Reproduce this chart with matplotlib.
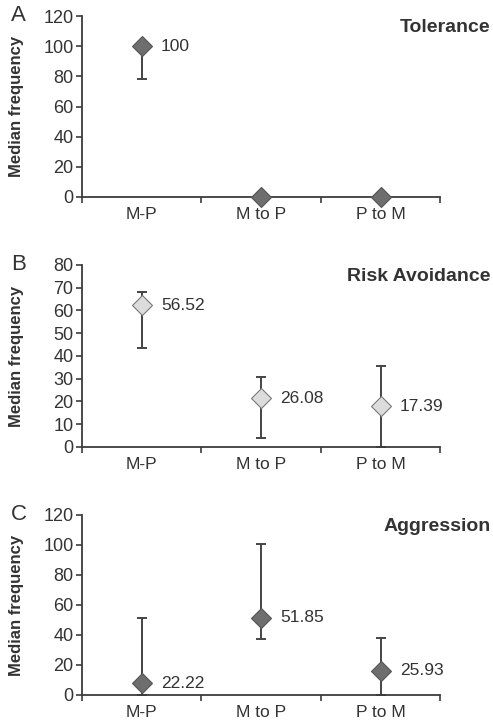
import numpy as np
import matplotlib
matplotlib.use("Agg")
import matplotlib.pyplot as plt

plt.rcParams['font.family'] = ['Liberation Sans', 'DejaVu Sans']

# Data
categories = ["M-P", "M to P", "P to M"]

tol_median = [100, 0, 0]
tol_low = [78, 0, 0]
tol_high = [100, 0, 0]
tol_labels = ["100", "", ""]

risk_median = [62.4, 21.4, 18.0]
risk_low = [43.4, 3.8, 0]
risk_high = [68.3, 30.6, 35.6]
risk_labels = ["56.52", "26.08", "17.39"]

agg_median = [7.8, 51.6, 16.0]
agg_low = [0, 37.1, 0]
agg_high = [51.1, 100.7, 37.8]
agg_labels = ["22.22", "51.85", "25.93"]

panels = [
    ("A", "Tolerance", tol_median, tol_low, tol_high, tol_labels, 120, 20, "#6e6e6e", "#555555"),
    ("B", "Risk Avoidance", risk_median, risk_low, risk_high, risk_labels, 80, 10, "#dcdcdc", "#7a7a7a"),
    ("C", "Aggression", agg_median, agg_low, agg_high, agg_labels, 120, 20, "#6e6e6e", "#555555"),
]

# axes rectangles in figure fractions
rects = [
    [0.166, 0.7287, 0.727, 0.249],
    [0.166, 0.3843, 0.727, 0.2507],
    [0.166, 0.0427, 0.727, 0.248],
]

fig = plt.figure(figsize=(4.93, 7.26), dpi=100)
axis_col = "#3c3c3c"
txt_col = "#333333"
x = np.arange(1, len(categories) + 1)

for (letter, title, med, low, high, labels, ymax, step, fc, ec), rect in zip(panels, rects):
    ax = fig.add_axes(rect)
    med = np.array(med)
    yerr = [med - np.array(low), np.array(high) - med]
    has_err = (yerr[0] + yerr[1]) > 0
    ax.errorbar(x[has_err], med[has_err], yerr=[yerr[0][has_err], yerr[1][has_err]],
                fmt="none", ecolor="#444444", elinewidth=1.4, capsize=3.5,
                capthick=1.4, zorder=2)
    ax.plot(x, med, linestyle="none", marker="D", markersize=10,
            markerfacecolor=fc, markeredgecolor=ec, markeredgewidth=0.8,
            zorder=3, clip_on=False)
    for xi, yi, lab in zip(x, med, labels):
        if lab:
            ax.annotate(lab, (xi, yi), xytext=(14, 0), textcoords="offset points",
                        ha="left", va="center", fontsize=12.5, color=txt_col)

    ax.set_xlim(0.5, 3.5)
    ax.set_ylim(0, ymax)
    ax.set_yticks(np.arange(0, ymax + 1, step))
    ax.set_xticks([0.5, 1.5, 2.5, 3.5])
    ax.set_xticklabels([])
    ax.set_xticks(x, minor=True)
    ax.set_xticklabels(categories, minor=True)
    ax.tick_params(axis="x", which="minor", length=0, labelsize=12.5,
                   pad=7, labelcolor=txt_col)
    ax.tick_params(axis="x", which="major", length=4, width=1.2, color=axis_col,
                   direction="out")
    ax.tick_params(axis="y", length=4, width=1.2, color=axis_col, labelsize=13,
                   labelcolor=txt_col, pad=2)
    for side in ["top", "right"]:
        ax.spines[side].set_visible(False)
    for side in ["left", "bottom"]:
        ax.spines[side].set_color(axis_col)
        ax.spines[side].set_linewidth(1.3)
    ax.set_ylabel("Median frequency", fontsize=12, fontweight="bold",
                  color=txt_col)
    ax.yaxis.set_label_coords(-0.16, 0.5)

    top = rect[1] + rect[3]
    fig.text(0.022, top + 0.001, letter, fontsize=16, color=txt_col,
             ha="left", va="center")
    fig.text(0.995, top - 0.016, title, fontsize=14, fontweight="bold",
             color=txt_col, ha="right", va="center")

fig.savefig("out.png", dpi=100)
